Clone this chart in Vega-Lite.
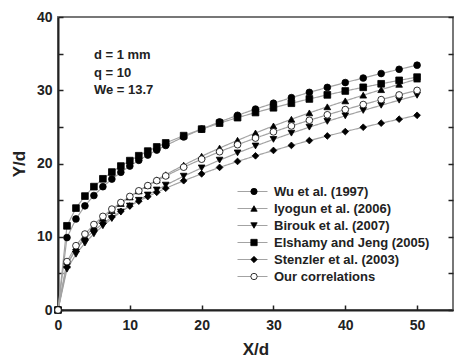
{
  "$schema": "https://vega.github.io/schema/vega-lite/v6.json",
  "width": 395,
  "height": 293,
  "autosize": {"type": "none"},
  "padding": {"left": 58, "top": 17, "right": 2, "bottom": 51},
  "background": "white",
  "config": {
    "view": {"stroke": "#777", "strokeWidth": 2},
    "font": "Liberation Sans",
    "axis": {
      "labelFont": "Liberation Sans", "labelFontWeight": "bold", "labelFontSize": 14, "labelColor": "#222",
      "titleFont": "Liberation Sans", "titleFontWeight": "bold", "titleFontSize": 17, "titleColor": "#222",
      "grid": false, "domainColor": "#222", "domainWidth": 2, "tickColor": "#222", "tickWidth": 1.5,
      "tickSize": -5, "labelPadding": 11, "labelFlush": false, "labelOverlap": false, "titlePadding": 8
    },
    "legend": {
      "labelFont": "Liberation Sans", "labelFontWeight": "bold", "labelFontSize": 13, "labelColor": "#222",
      "rowPadding": 3
    }
  },
  "datasets": {
    "curves": [
      {"series": "Wu et al. (1997)", "x": 0, "y": 0},
      {"series": "Wu et al. (1997)", "x": 1.25, "y": 9.89},
      {"series": "Wu et al. (1997)", "x": 2.5, "y": 12.43},
      {"series": "Wu et al. (1997)", "x": 3.75, "y": 14.22},
      {"series": "Wu et al. (1997)", "x": 5, "y": 15.63},
      {"series": "Wu et al. (1997)", "x": 6.25, "y": 16.83},
      {"series": "Wu et al. (1997)", "x": 7.5, "y": 17.87},
      {"series": "Wu et al. (1997)", "x": 8.75, "y": 18.8},
      {"series": "Wu et al. (1997)", "x": 10, "y": 19.65},
      {"series": "Wu et al. (1997)", "x": 11.25, "y": 20.43},
      {"series": "Wu et al. (1997)", "x": 12.5, "y": 21.15},
      {"series": "Wu et al. (1997)", "x": 13.75, "y": 21.83},
      {"series": "Wu et al. (1997)", "x": 15, "y": 22.46},
      {"series": "Wu et al. (1997)", "x": 17.5, "y": 23.63},
      {"series": "Wu et al. (1997)", "x": 20, "y": 24.7},
      {"series": "Wu et al. (1997)", "x": 22.5, "y": 25.68},
      {"series": "Wu et al. (1997)", "x": 25, "y": 26.58},
      {"series": "Wu et al. (1997)", "x": 27.5, "y": 27.43},
      {"series": "Wu et al. (1997)", "x": 30, "y": 28.23},
      {"series": "Wu et al. (1997)", "x": 32.5, "y": 28.99},
      {"series": "Wu et al. (1997)", "x": 35, "y": 29.71},
      {"series": "Wu et al. (1997)", "x": 37.5, "y": 30.39},
      {"series": "Wu et al. (1997)", "x": 40, "y": 31.05},
      {"series": "Wu et al. (1997)", "x": 42.5, "y": 31.67},
      {"series": "Wu et al. (1997)", "x": 45, "y": 32.28},
      {"series": "Wu et al. (1997)", "x": 47.5, "y": 32.86},
      {"series": "Wu et al. (1997)", "x": 50, "y": 33.42},
      {"series": "Iyogun et al. (2006)", "x": 0, "y": 0},
      {"series": "Iyogun et al. (2006)", "x": 1.25, "y": 6.13},
      {"series": "Iyogun et al. (2006)", "x": 2.5, "y": 8.34},
      {"series": "Iyogun et al. (2006)", "x": 3.75, "y": 9.98},
      {"series": "Iyogun et al. (2006)", "x": 5, "y": 11.34},
      {"series": "Iyogun et al. (2006)", "x": 6.25, "y": 12.52},
      {"series": "Iyogun et al. (2006)", "x": 7.5, "y": 13.58},
      {"series": "Iyogun et al. (2006)", "x": 8.75, "y": 14.54},
      {"series": "Iyogun et al. (2006)", "x": 10, "y": 15.43},
      {"series": "Iyogun et al. (2006)", "x": 11.25, "y": 16.26},
      {"series": "Iyogun et al. (2006)", "x": 12.5, "y": 17.03},
      {"series": "Iyogun et al. (2006)", "x": 13.75, "y": 17.77},
      {"series": "Iyogun et al. (2006)", "x": 15, "y": 18.47},
      {"series": "Iyogun et al. (2006)", "x": 17.5, "y": 19.78},
      {"series": "Iyogun et al. (2006)", "x": 20, "y": 20.99},
      {"series": "Iyogun et al. (2006)", "x": 22.5, "y": 22.11},
      {"series": "Iyogun et al. (2006)", "x": 25, "y": 23.17},
      {"series": "Iyogun et al. (2006)", "x": 27.5, "y": 24.17},
      {"series": "Iyogun et al. (2006)", "x": 30, "y": 25.13},
      {"series": "Iyogun et al. (2006)", "x": 32.5, "y": 26.04},
      {"series": "Iyogun et al. (2006)", "x": 35, "y": 26.91},
      {"series": "Iyogun et al. (2006)", "x": 37.5, "y": 27.74},
      {"series": "Iyogun et al. (2006)", "x": 40, "y": 28.55},
      {"series": "Iyogun et al. (2006)", "x": 42.5, "y": 29.33},
      {"series": "Iyogun et al. (2006)", "x": 45, "y": 30.08},
      {"series": "Iyogun et al. (2006)", "x": 47.5, "y": 30.81},
      {"series": "Iyogun et al. (2006)", "x": 50, "y": 31.52},
      {"series": "Birouk et al. (2007)", "x": 0, "y": 0},
      {"series": "Birouk et al. (2007)", "x": 1.25, "y": 5.57},
      {"series": "Birouk et al. (2007)", "x": 2.5, "y": 7.61},
      {"series": "Birouk et al. (2007)", "x": 3.75, "y": 9.14},
      {"series": "Birouk et al. (2007)", "x": 5, "y": 10.4},
      {"series": "Birouk et al. (2007)", "x": 6.25, "y": 11.5},
      {"series": "Birouk et al. (2007)", "x": 7.5, "y": 12.48},
      {"series": "Birouk et al. (2007)", "x": 8.75, "y": 13.38},
      {"series": "Birouk et al. (2007)", "x": 10, "y": 14.2},
      {"series": "Birouk et al. (2007)", "x": 11.25, "y": 14.98},
      {"series": "Birouk et al. (2007)", "x": 12.5, "y": 15.7},
      {"series": "Birouk et al. (2007)", "x": 13.75, "y": 16.39},
      {"series": "Birouk et al. (2007)", "x": 15, "y": 17.05},
      {"series": "Birouk et al. (2007)", "x": 17.5, "y": 18.27},
      {"series": "Birouk et al. (2007)", "x": 20, "y": 19.4},
      {"series": "Birouk et al. (2007)", "x": 22.5, "y": 20.46},
      {"series": "Birouk et al. (2007)", "x": 25, "y": 21.45},
      {"series": "Birouk et al. (2007)", "x": 27.5, "y": 22.39},
      {"series": "Birouk et al. (2007)", "x": 30, "y": 23.29},
      {"series": "Birouk et al. (2007)", "x": 32.5, "y": 24.14},
      {"series": "Birouk et al. (2007)", "x": 35, "y": 24.96},
      {"series": "Birouk et al. (2007)", "x": 37.5, "y": 25.75},
      {"series": "Birouk et al. (2007)", "x": 40, "y": 26.51},
      {"series": "Birouk et al. (2007)", "x": 42.5, "y": 27.24},
      {"series": "Birouk et al. (2007)", "x": 45, "y": 27.95},
      {"series": "Birouk et al. (2007)", "x": 47.5, "y": 28.64},
      {"series": "Birouk et al. (2007)", "x": 50, "y": 29.31},
      {"series": "Elshamy and Jeng (2005)", "x": 0, "y": 0},
      {"series": "Elshamy and Jeng (2005)", "x": 1.25, "y": 11.49},
      {"series": "Elshamy and Jeng (2005)", "x": 2.5, "y": 13.91},
      {"series": "Elshamy and Jeng (2005)", "x": 3.75, "y": 15.55},
      {"series": "Elshamy and Jeng (2005)", "x": 5, "y": 16.84},
      {"series": "Elshamy and Jeng (2005)", "x": 6.25, "y": 17.91},
      {"series": "Elshamy and Jeng (2005)", "x": 7.5, "y": 18.83},
      {"series": "Elshamy and Jeng (2005)", "x": 8.75, "y": 19.65},
      {"series": "Elshamy and Jeng (2005)", "x": 10, "y": 20.39},
      {"series": "Elshamy and Jeng (2005)", "x": 11.25, "y": 21.06},
      {"series": "Elshamy and Jeng (2005)", "x": 12.5, "y": 21.69},
      {"series": "Elshamy and Jeng (2005)", "x": 13.75, "y": 22.26},
      {"series": "Elshamy and Jeng (2005)", "x": 15, "y": 22.81},
      {"series": "Elshamy and Jeng (2005)", "x": 17.5, "y": 23.8},
      {"series": "Elshamy and Jeng (2005)", "x": 20, "y": 24.69},
      {"series": "Elshamy and Jeng (2005)", "x": 22.5, "y": 25.51},
      {"series": "Elshamy and Jeng (2005)", "x": 25, "y": 26.26},
      {"series": "Elshamy and Jeng (2005)", "x": 27.5, "y": 26.96},
      {"series": "Elshamy and Jeng (2005)", "x": 30, "y": 27.61},
      {"series": "Elshamy and Jeng (2005)", "x": 32.5, "y": 28.23},
      {"series": "Elshamy and Jeng (2005)", "x": 35, "y": 28.81},
      {"series": "Elshamy and Jeng (2005)", "x": 37.5, "y": 29.37},
      {"series": "Elshamy and Jeng (2005)", "x": 40, "y": 29.9},
      {"series": "Elshamy and Jeng (2005)", "x": 42.5, "y": 30.4},
      {"series": "Elshamy and Jeng (2005)", "x": 45, "y": 30.88},
      {"series": "Elshamy and Jeng (2005)", "x": 47.5, "y": 31.35},
      {"series": "Elshamy and Jeng (2005)", "x": 50, "y": 31.79},
      {"series": "Stenzler et al. (2003)", "x": 0, "y": 0},
      {"series": "Stenzler et al. (2003)", "x": 1.25, "y": 6.31},
      {"series": "Stenzler et al. (2003)", "x": 2.5, "y": 8.26},
      {"series": "Stenzler et al. (2003)", "x": 3.75, "y": 9.68},
      {"series": "Stenzler et al. (2003)", "x": 5, "y": 10.83},
      {"series": "Stenzler et al. (2003)", "x": 6.25, "y": 11.81},
      {"series": "Stenzler et al. (2003)", "x": 7.5, "y": 12.68},
      {"series": "Stenzler et al. (2003)", "x": 8.75, "y": 13.47},
      {"series": "Stenzler et al. (2003)", "x": 10, "y": 14.19},
      {"series": "Stenzler et al. (2003)", "x": 11.25, "y": 14.86},
      {"series": "Stenzler et al. (2003)", "x": 12.5, "y": 15.48},
      {"series": "Stenzler et al. (2003)", "x": 13.75, "y": 16.07},
      {"series": "Stenzler et al. (2003)", "x": 15, "y": 16.62},
      {"series": "Stenzler et al. (2003)", "x": 17.5, "y": 17.65},
      {"series": "Stenzler et al. (2003)", "x": 20, "y": 18.59},
      {"series": "Stenzler et al. (2003)", "x": 22.5, "y": 19.47},
      {"series": "Stenzler et al. (2003)", "x": 25, "y": 20.28},
      {"series": "Stenzler et al. (2003)", "x": 27.5, "y": 21.05},
      {"series": "Stenzler et al. (2003)", "x": 30, "y": 21.78},
      {"series": "Stenzler et al. (2003)", "x": 32.5, "y": 22.47},
      {"series": "Stenzler et al. (2003)", "x": 35, "y": 23.13},
      {"series": "Stenzler et al. (2003)", "x": 37.5, "y": 23.76},
      {"series": "Stenzler et al. (2003)", "x": 40, "y": 24.36},
      {"series": "Stenzler et al. (2003)", "x": 42.5, "y": 24.95},
      {"series": "Stenzler et al. (2003)", "x": 45, "y": 25.51},
      {"series": "Stenzler et al. (2003)", "x": 47.5, "y": 26.05},
      {"series": "Stenzler et al. (2003)", "x": 50, "y": 26.58},
      {"series": "Our correlations", "x": 0, "y": 0},
      {"series": "Our correlations", "x": 1.25, "y": 6.61},
      {"series": "Our correlations", "x": 2.5, "y": 8.78},
      {"series": "Our correlations", "x": 3.75, "y": 10.37},
      {"series": "Our correlations", "x": 5, "y": 11.67},
      {"series": "Our correlations", "x": 6.25, "y": 12.78},
      {"series": "Our correlations", "x": 7.5, "y": 13.77},
      {"series": "Our correlations", "x": 8.75, "y": 14.67},
      {"series": "Our correlations", "x": 10, "y": 15.5},
      {"series": "Our correlations", "x": 11.25, "y": 16.27},
      {"series": "Our correlations", "x": 12.5, "y": 16.98},
      {"series": "Our correlations", "x": 13.75, "y": 17.66},
      {"series": "Our correlations", "x": 15, "y": 18.3},
      {"series": "Our correlations", "x": 17.5, "y": 19.5},
      {"series": "Our correlations", "x": 20, "y": 20.59},
      {"series": "Our correlations", "x": 22.5, "y": 21.61},
      {"series": "Our correlations", "x": 25, "y": 22.57},
      {"series": "Our correlations", "x": 27.5, "y": 23.47},
      {"series": "Our correlations", "x": 30, "y": 24.32},
      {"series": "Our correlations", "x": 32.5, "y": 25.13},
      {"series": "Our correlations", "x": 35, "y": 25.9},
      {"series": "Our correlations", "x": 37.5, "y": 26.65},
      {"series": "Our correlations", "x": 40, "y": 27.36},
      {"series": "Our correlations", "x": 42.5, "y": 28.05},
      {"series": "Our correlations", "x": 45, "y": 28.72},
      {"series": "Our correlations", "x": 47.5, "y": 29.36},
      {"series": "Our correlations", "x": 50, "y": 29.98}
    ],
    "notes": [
      {"t": "d = 1 mm", "x": 5, "y": 34.8},
      {"t": "q = 10", "x": 5, "y": 32.4},
      {"t": "We = 13.7", "x": 5, "y": 30.0}
    ]
  },
  "resolve": {"axis": {"y": "independent"}},
  "layer": [
    {
      "data": {"name": "curves"},
      "mark": {"type": "line", "stroke": "#a3a3a3", "strokeWidth": 1.2},
      "encoding": {
        "x": {
          "field": "x", "type": "quantitative",
          "scale": {"domain": [0, 55], "nice": false},
          "axis": {"title": "X/d", "values": [0, 5, 10, 15, 20, 25, 30, 35, 40, 45, 50, 55],
                   "labelPadding": 13, "titlePadding": 9,
                   "labelExpr": "datum.value % 10 === 0 && datum.value < 55 ? datum.label : ''"}
        },
        "y": {
          "field": "y", "type": "quantitative",
          "scale": {"domain": [0, 40], "nice": false},
          "axis": {"title": "Y/d", "values": [0, 5, 10, 15, 20, 25, 30, 35, 40],
                   "labelExpr": "datum.value % 10 === 0 ? datum.label : ''"}
        },
        "strokeDash": {
          "field": "series", "type": "nominal",
          "sort": ["Wu et al. (1997)", "Iyogun et al. (2006)", "Birouk et al. (2007)", "Elshamy and Jeng (2005)", "Stenzler et al. (2003)", "Our correlations"],
          "scale": {"range": [[1, 0]]},
          "legend": {"orient": "none", "legendX": 188, "legendY": 168, "title": null,
                     "symbolType": "M-3,0H3", "symbolSize": 100, "symbolStrokeWidth": 1.2,
                     "symbolStrokeColor": "#a3a3a3", "labelOffset": 15}
        }
      }
    },
    {
      "data": {"name": "curves"},
      "mark": {"type": "point", "filled": true, "size": 45, "strokeWidth": 0.8, "opacity": 1},
      "encoding": {
        "x": {"field": "x", "type": "quantitative"},
        "y": {"field": "y", "type": "quantitative", "axis": null},
        "shape": {
          "field": "series", "type": "nominal",
          "scale": {"domain": ["Wu et al. (1997)", "Iyogun et al. (2006)", "Birouk et al. (2007)", "Elshamy and Jeng (2005)", "Stenzler et al. (2003)", "Our correlations"],
                    "range": ["circle", "triangle-up", "triangle-down", "square", "diamond", "circle"]},
          "legend": {"orient": "none", "legendX": 188, "legendY": 168, "title": null, "labelExpr": "''",
                     "symbolSize": 40, "symbolOffset": 1.5, "symbolStrokeWidth": 0.8}
        },
        "fill": {
          "field": "series", "type": "nominal",
          "scale": {"domain": ["Wu et al. (1997)", "Iyogun et al. (2006)", "Birouk et al. (2007)", "Elshamy and Jeng (2005)", "Stenzler et al. (2003)", "Our correlations"],
                    "range": ["black", "black", "black", "black", "black", "white"]},
          "legend": {"orient": "none", "legendX": 188, "legendY": 168, "title": null, "labelExpr": "''",
                     "symbolSize": 40, "symbolOffset": 1.5, "symbolStrokeWidth": 0.8}
        },
        "stroke": {
          "field": "series", "type": "nominal",
          "scale": {"domain": ["Wu et al. (1997)", "Iyogun et al. (2006)", "Birouk et al. (2007)", "Elshamy and Jeng (2005)", "Stenzler et al. (2003)", "Our correlations"],
                    "range": ["black"]},
          "legend": {"orient": "none", "legendX": 188, "legendY": 168, "title": null, "labelExpr": "''",
                     "symbolSize": 40, "symbolOffset": 1.5, "symbolStrokeWidth": 0.8}
        }
      }
    },
    {
      "data": {"name": "notes"},
      "mark": {"type": "text", "align": "left", "baseline": "middle", "font": "Liberation Sans", "fontWeight": "bold", "fontSize": 13, "color": "#222"},
      "encoding": {
        "x": {"field": "x", "type": "quantitative"},
        "y": {"field": "y", "type": "quantitative",
              "axis": {"orient": "right", "title": null, "labels": false, "domain": false,
                       "values": [0, 5, 10, 15, 20, 25, 30, 35, 40]}},
        "text": {"field": "t"}
      }
    }
  ]
}
